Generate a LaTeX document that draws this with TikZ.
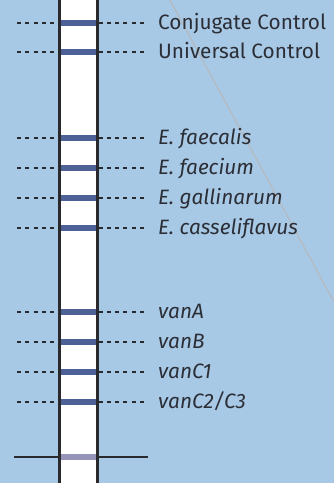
\documentclass[tikz,border=0pt]{standalone}
\usepackage{fontspec}
\setmainfont{Fira Sans}
\definecolor{bg}{HTML}{A7C9E6}
\definecolor{band}{HTML}{4E6196}
\definecolor{lowband}{HTML}{9694B8}
\definecolor{edge}{HTML}{2A2A2E}
\definecolor{txt}{HTML}{2C2E36}
\definecolor{diag}{HTML}{B8B8B8}
\tikzset{
  dots/.style={edge, line width=1.6pt, dash pattern=on 4pt off 4.3pt},
  lbl/.style={anchor=base west, inner sep=0pt, text=txt, font=\fontsize{20.8}{24}\selectfont},
  bandbox/.style={fill=band, draw=none},
}
\begin{document}
\begin{tikzpicture}[x=1pt, y=-1pt]
\fill[bg] (0,0) rectangle (334,483);
\useasboundingbox (0,0) rectangle (334,483);
\draw[diag, line width=1pt] (170,0) -- (334,302);
% strip
\fill[white] (59.7,0) rectangle (97.2,483);
\foreach \y/\t/\n [count=\i] in {23/{Conjugate Control}/cc, 52/{Universal Control}/uc,
  138/{\itshape E. faecalis}/ef, 168/{\itshape E. faecium}/efm, 198/{\itshape E. gallinarum}/eg, 228/{\itshape E. casseliflavus}/ec,
  312/{\itshape vanA}/va, 342/{\itshape vanB}/vb, 372/{\itshape vanC1}/vc, 402/{\itshape vanC2/C3}/vd} {
  \fill[band] (59.7,\y-2.9) rectangle (97.2,\y+2.9);
  \coordinate (l\n) at (17,\y);
  \coordinate (r\n) at (98.5,\y);
  \node[lbl] (t\n) at (158,\y+6.5) {\t};
  \draw[dots] (l\n) -- (59,\y);
  \draw[dots] (r\n) -- (148,\y);
}
\fill[lowband] (59.7,454) rectangle (97.2,459.5);
\coordinate (bl) at (14,456.8);
\coordinate (br) at (148,456.8);
\draw[edge, line width=1.6pt] (bl) -- (59,456.8);
\draw[edge, line width=1.6pt] (98,456.8) -- (br);
\draw[edge, line width=2.7pt] (59.7,-2) -- (59.7,485);
\draw[edge, line width=2.7pt] (97.2,-2) -- (97.2,485);
\end{tikzpicture}
\end{document}
